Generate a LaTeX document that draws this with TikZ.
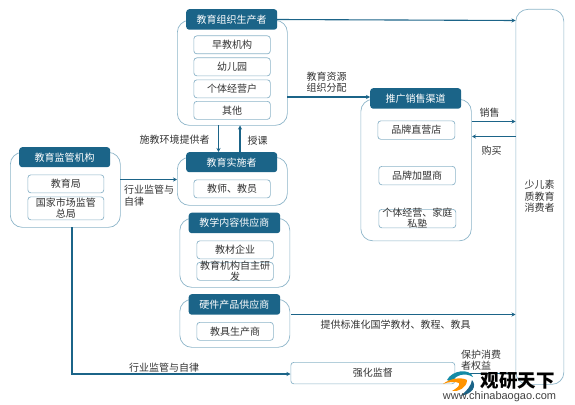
\documentclass[tikz,border=0pt]{standalone}
\usepackage{fontspec}
\setmainfont{Noto Sans CJK SC}
\newfontfamily\latinfont{Liberation Sans}
\usetikzlibrary{arrows.meta}
\definecolor{hdr}{HTML}{1B6488}
\definecolor{edge}{HTML}{8DB5C9}
\definecolor{txt}{HTML}{333333}
\tikzset{
  x=1pt,y=-1pt,
  panel/.style={draw=edge,line width=.7pt,rounded corners=12pt,fill=white,inner sep=0pt},
  hbox/.style={fill=hdr,rounded corners=3pt,text=white,inner sep=0pt,font=\fontsize{10}{12}\selectfont},
  sbox/.style={draw=edge,line width=.7pt,rounded corners=3pt,fill=white,inner sep=0pt,text=txt,align=center,font=\fontsize{10}{11}\selectfont},
  lab/.style={text=txt,inner sep=0pt,align=center,font=\fontsize{10}{11.5}\selectfont},
  conn/.style={draw=hdr,line width=1.1pt,-{Stealth[length=4pt,width=4pt]}},
  plainconn/.style={draw=hdr,line width=1.1pt}
}
\newcommand{\bx}[7][]{% style, name, x1,y1,x2,y2, text
  \node[#1,minimum width=#5pt-#3pt,minimum height=#6pt-#4pt,anchor=north west] (#2) at (#3,#4) {#7};}
\begin{document}
\begin{tikzpicture}
\useasboundingbox (0,0) rectangle (575,404);
% panels
\bx[panel]{orgp}{177}{20}{287}{125}{}
\bx[panel]{implp}{177}{157}{287}{205}{}
\bx[panel]{monp}{10}{152}{120}{227}{}
\bx[panel]{teachp}{179.5}{218}{289.5}{287}{}
\bx[panel]{hardp}{179.5}{299}{289.5}{347}{}
\bx[panel]{chanp}{360.5}{99}{471}{240.5}{}
\bx[panel]{cons}{515.5}{9}{563.5}{384}{}
\node[lab] (constext) at (539.5,196.5) {少儿素\\质教育\\消费者};
% headers
\bx[hbox]{org}{186}{9}{277}{29.5}{教育组织生产者}
\bx[hbox]{impl}{186}{152}{277}{172}{教育实施者}
\bx[hbox]{mon}{19}{147}{110}{167}{教育监管机构}
\bx[hbox]{teach}{188.5}{212.5}{280}{233}{教学内容供应商}
\bx[hbox]{hard}{188.5}{294}{280}{314.5}{硬件产品供应商}
\bx[hbox]{chan}{370}{88}{461}{108.5}{推广销售渠道}
% sub boxes
\bx[sbox]{s1}{193.5}{35.5}{270}{53.5}{早教机构}
\bx[sbox]{s2}{193.5}{57.5}{270}{75.5}{幼儿园}
\bx[sbox]{s3}{193.5}{79.5}{270}{97.5}{个体经营户}
\bx[sbox]{s4}{193.5}{101}{270}{119}{其他}
\bx[sbox]{s5}{193.5}{179.5}{270}{197.5}{教师、教员}
\bx[sbox]{s6}{27.5}{174.5}{103.5}{192.5}{教育局}
\bx[sbox]{s7}{27.5}{196.5}{103.5}{219.5}{国家市场监管\\总局}
\bx[sbox]{s8}{196.5}{240.5}{273}{258.5}{教材企业}
\bx[sbox]{s9}{196.5}{262}{273}{280}{}
\node[sbox,draw=none,fill=none] (s9t) at (s9) {教育机构自主研\\发};
\bx[sbox]{s10}{196.5}{322}{273}{340}{教具生产商}
\bx[sbox]{s11}{377.5}{120.5}{454.5}{139}{品牌直营店}
\bx[sbox]{s12}{378.5}{166}{455}{184.5}{品牌加盟商}
\bx[sbox]{s13}{378.5}{209}{455.5}{227.5}{}
\node[sbox,draw=none,fill=none] (s13t) at (s13) {个体经营、家庭\\私塾};
\bx[sbox]{sup}{290.5}{362}{454.5}{383.5}{强化监督}
% free-end coordinates
\coordinate (a1) at (277,19.5); \coordinate (a2) at (515.5,20.5);
\coordinate (b1) at (287,97); \coordinate (b2) at (370,97);
\coordinate (c1) at (471.5,121.5); \coordinate (c2) at (515.5,121.5);
\coordinate (d1) at (515.5,136.5); \coordinate (d2) at (472,136.5);
\coordinate (e1) at (218.5,125); \coordinate (e2) at (218.5,152);
\coordinate (f1) at (240,152); \coordinate (f2) at (240,125.5);
\coordinate (g1) at (120,179.5); \coordinate (g2) at (177,179.5);
\coordinate (h1) at (72,227); \coordinate (h2) at (72,374); \coordinate (h3) at (290.5,374);
\coordinate (i1) at (291,314.5); \coordinate (i2) at (515.5,314.5);
\coordinate (j1) at (454.5,373.5); \coordinate (j2) at (515.5,373.5);
% connectors
\draw[conn] (a1) -- (a2);
\draw[conn] (b1) -- (b2);
\draw[conn] (c1) -- (c2);
\draw[conn] (d1) -- (d2);
\draw[conn] (e1) -- (e2);
\draw[conn] (f1) -- (f2);
\draw[conn] (g1) -- (g2);
\draw[conn] (h1) -- (h2) -- (h3);
\draw[conn] (i1) -- (i2);
\draw[plainconn] (j1) -- (j2);
% labels
\node[lab] (l1) at (174.5,140) {施教环境提供者};
\node[lab] (l2) at (257.5,141) {授课};
\node[lab,align=left] (l3) at (149,195.5) {行业监管与\\自律};
\node[lab] (l4) at (326.5,82) {教育资源\\组织分配};
\node[lab] (l5) at (489.5,113) {销售};
\node[lab] (l6) at (491.5,151) {购买};
\node[lab] (l7) at (164,367.5) {行业监管与自律};
\node[lab] (l8) at (395.5,325) {提供标准化国学教材、教程、教具};
\node[lab,align=left] (l9) at (481,360) {保护消费\\者权益};
% logo
\fill[hdr!75!cyan] (447,380) .. controls (452,370) and (470,368) .. (473,377) .. controls (465,372) and (455,375) .. (452,382) -- cycle;
\fill[orange!85!yellow] (443,384) .. controls (450,378) and (462,377) .. (467,380) .. controls (467,388) and (458,392) .. (452,391) .. controls (457,388) and (460,386) .. (459,383) .. controls (455,381) and (448,382) .. (443,384) -- cycle;
\fill[hdr] (472,380) .. controls (477,386) and (473,394) .. (460,396) .. controls (467,391) and (471,386) .. (472,380) -- cycle;
\node[inner sep=0pt,font=\fontsize{18.5}{19}\selectfont\bfseries,text=black] (logo) at (517.5,381) {观研天下};
\node[inner sep=0pt,font=\latinfont\fontsize{11}{11}\selectfont,text=black!75] (url) at (499.5,397) {www.chinabaogao.com};
\end{tikzpicture}
\end{document}
